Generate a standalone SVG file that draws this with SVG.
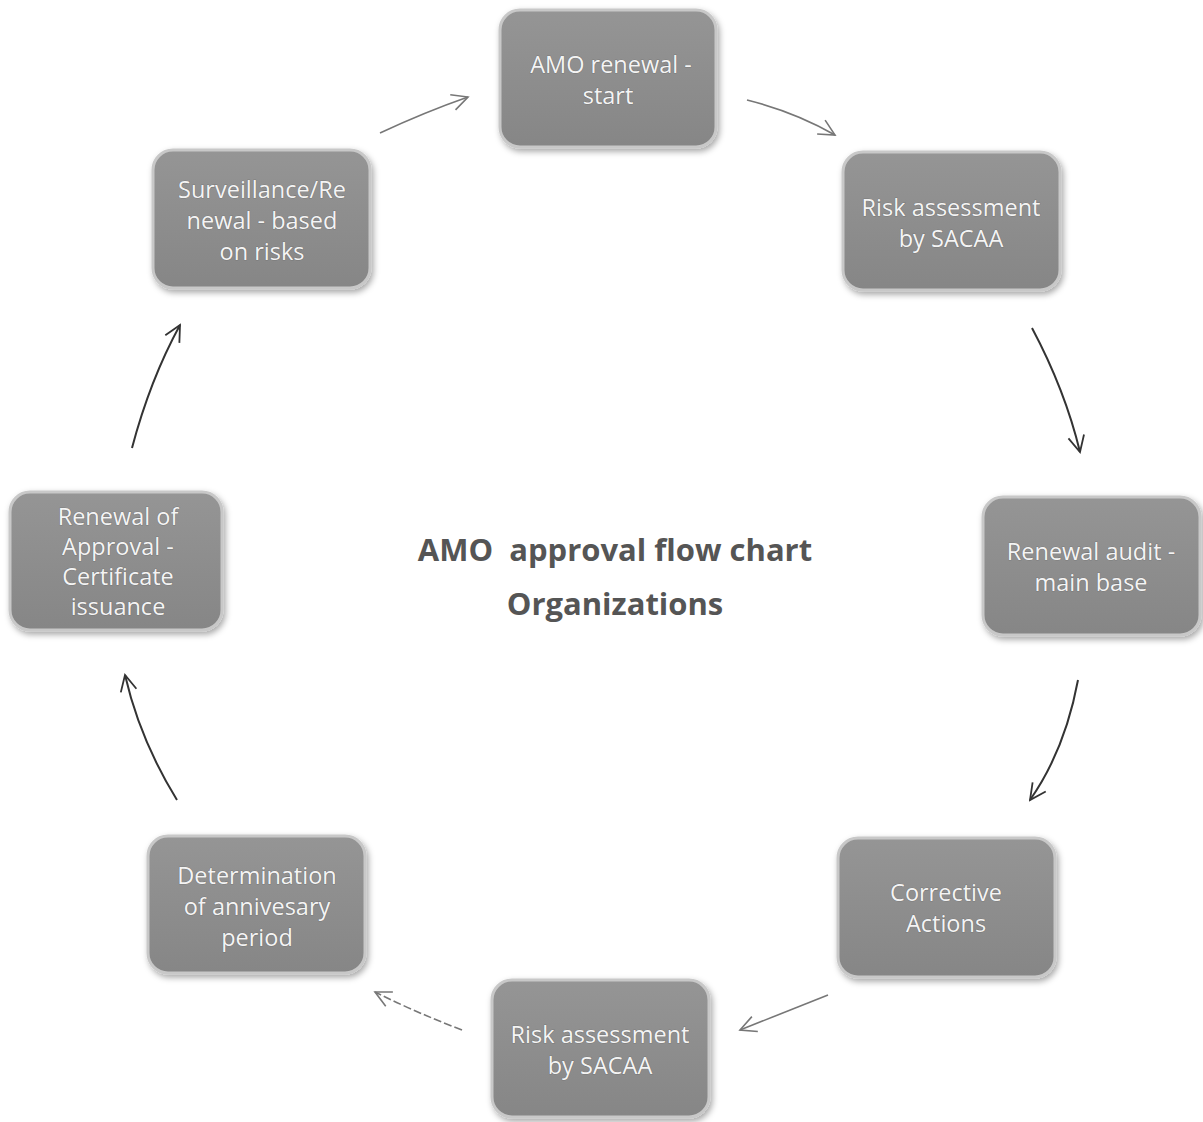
<svg xmlns="http://www.w3.org/2000/svg" width="1203" height="1122" viewBox="0 0 1203 1122">
<defs>
<linearGradient id="g" x1="0" y1="0" x2="0" y2="1">
<stop offset="0" stop-color="#959595"/>
<stop offset="1" stop-color="#868686"/>
</linearGradient>
<filter id="sh" x="-10%" y="-10%" width="130%" height="130%">
<feDropShadow dx="2" dy="3" stdDeviation="3" flood-color="#000" flood-opacity="0.35"/>
</filter>
<marker id="ahd" viewBox="0 0 20 20" refX="18" refY="10" markerWidth="20" markerHeight="20" markerUnits="userSpaceOnUse" orient="auto">
<path d="M2,2 L18,10 L2,18" fill="none" stroke="#333" stroke-width="1.8"/>
</marker>
<marker id="ahg" viewBox="0 0 20 20" refX="18" refY="10" markerWidth="20" markerHeight="20" markerUnits="userSpaceOnUse" orient="auto">
<path d="M2,2 L18,10 L2,18" fill="none" stroke="#777" stroke-width="1.6"/>
</marker>
</defs>
<style>
.box{fill:url(#g);stroke:#c8c8c8;stroke-width:3;filter:url(#sh)}
.lbl{font-family:"Open Sans","Liberation Sans",sans-serif;font-size:23.5px;fill:#f4f4f4;text-anchor:middle;stroke:#666;stroke-width:0.7;paint-order:stroke}
.title{font-family:"Open Sans","Liberation Sans",sans-serif;font-size:31px;font-weight:bold;fill:#555;text-anchor:middle;white-space:pre}
.dk{fill:none;stroke:#333;stroke-width:2;marker-end:url(#ahd)}
.gr{fill:none;stroke:#777;stroke-width:1.6;marker-end:url(#ahg)}
</style>
<rect width="1203" height="1122" fill="#fff"/>
<g id="title">
<text class="title" x="615" y="561" xml:space="preserve">AMO  approval flow chart</text>
<text class="title" x="615" y="615">Organizations</text>
</g>
<g id="n1"><rect class="box" x="500" y="10" width="216" height="137" rx="20"/><text class="lbl" x="611" y="73">AMO renewal -</text><text class="lbl" x="608" y="104">start</text></g>
<g id="n2"><rect class="box" x="843" y="152" width="217" height="138" rx="20"/><text class="lbl" x="951" y="216">Risk assessment</text><text class="lbl" x="951" y="247">by SACAA</text></g>
<g id="n3"><rect class="box" x="983" y="497" width="217" height="138" rx="20"/><text class="lbl" x="1091" y="560">Renewal audit -</text><text class="lbl" x="1091" y="591">main base</text></g>
<g id="n4"><rect class="box" x="838" y="838" width="217" height="139" rx="20"/><text class="lbl" x="946" y="901">Corrective</text><text class="lbl" x="946" y="932">Actions</text></g>
<g id="n5"><rect class="box" x="492" y="980" width="217" height="137" rx="20"/><text class="lbl" x="600" y="1043">Risk assessment</text><text class="lbl" x="600" y="1074">by SACAA</text></g>
<g id="n6"><rect class="box" x="148" y="836" width="217" height="137" rx="20"/><text class="lbl" x="257" y="884">Determination</text><text class="lbl" x="257" y="915">of annivesary</text><text class="lbl" x="257" y="946">period</text></g>
<g id="n7"><rect class="box" x="10" y="492" width="212" height="138" rx="20"/><text class="lbl" x="118" y="525">Renewal of</text><text class="lbl" x="118" y="555">Approval -</text><text class="lbl" x="118" y="585">Certificate</text><text class="lbl" x="118" y="615">issuance</text></g>
<g id="n8"><rect class="box" x="153" y="150" width="217" height="138" rx="20"/><text class="lbl" x="262" y="198">Surveillance/Re</text><text class="lbl" x="262" y="229">newal - based</text><text class="lbl" x="262" y="260">on risks</text></g>
<g id="connectors">
<path class="gr" d="M747,100 Q795,112 835,135"/>
<path class="dk" d="M1032,328 Q1065,390 1080,452"/>
<path class="dk" d="M1078,680 Q1065,750 1030,800"/>
<path class="gr" d="M828,995 Q785,1012 740,1030"/>
<path class="gr" d="M462,1030 Q415,1012 375,992" stroke-dasharray="8 3"/>
<path class="dk" d="M177,800 Q140,740 125,675"/>
<path class="dk" d="M132,448 Q150,380 180,325"/>
<path class="gr" d="M380,133 Q425,112 468,97"/>
</g>
</svg>
